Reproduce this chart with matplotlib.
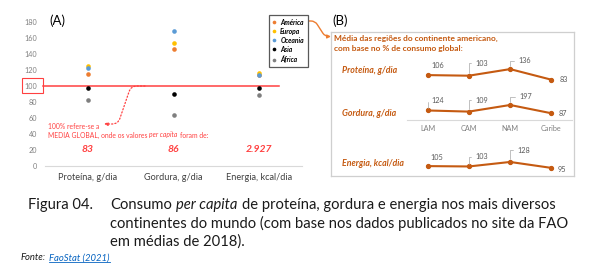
import matplotlib
matplotlib.use('Agg')
import matplotlib.pyplot as plt
from matplotlib.patches import Rectangle
from matplotlib.lines import Line2D
from matplotlib.transforms import IdentityTransform

plt.rcParams['font.family'] = ['Lato', 'DejaVu Sans']

# (A) consumo per capita, % da media global
nutrientes = ['Proteína, g/dia', 'Gordura, g/dia', 'Energia, kcal/dia']
continentes = ['América', 'Europa', 'Oceania', 'Asia', 'África']
america = [115, 146, 114]
europa = [125, 154, 116]
oceania = [123, 169, 113]
asia = [97, 90, 97]
africa = [82, 63, 88]
media_global = ['83', '86', '2.927']

# (B) regioes do continente americano, % do consumo global
regioes = ['LAM', 'CAM', 'NAM', 'Caribe']
proteina_am = [106, 103, 136, 83]
gordura_am = [124, 109, 197, 87]
energia_am = [105, 103, 128, 95]

W, H = 600, 278
fig = plt.figure(figsize=(W / 100, H / 100), dpi=100)
renderer = fig.canvas.get_renderer()
ident = IdentityTransform()

RED = '#ff4040'
ORANGE = '#c55a11'
GRAY = '#595959'
TXT = '#1a1a1a'
cores = ['#ed7d31', '#ffc000', '#5b9bd5', '#000000', '#7f7f7f']


def rect(x0, y0, x1, y1):
    # caixa em pixels (origem no canto superior esquerdo) -> fracao da figura
    return [x0 / W, 1 - y1 / H, (x1 - x0) / W, (y1 - y0) / H]


def pt(x, y):
    return (x / W, 1 - y / H)


def ftext(x, y, s, **kw):
    return fig.text(x / W, 1 - y / H, s, **kw)


def largura(s, **kw):
    t = fig.text(0, 0, s, **kw)
    w = t.get_window_extent(renderer).width
    t.remove()
    return w


def corrida(x, y, partes, **kw):
    # pedacos de texto lado a lado (normal / italico), separados por um espaco
    espaco = largura('n n', **kw) - largura('nn', **kw)
    objs = []
    for s, estilo in partes:
        objs.append(ftext(x, y, s, style=estilo, va='center', **kw))
        x += largura(s, style=estilo, **kw) + espaco + (0.8 if estilo == 'italic' else 0)
    return objs


# ---------------- (A)
ax = fig.add_axes(rect(45, 22, 302, 165.7))
ax.patch.set_alpha(0)
xs = list(range(len(nutrientes)))
for nome, vals, c in zip(continentes, [america, europa, oceania, asia, africa], cores):
    ax.plot(xs, vals, 'o', ms=3.3, color=c, mec='none', label=nome, zorder=3)
ax.set_xlim(-0.5, 2.5)
ax.set_ylim(0, 180)
ax.set_yticks(range(0, 181, 20))
ax.set_xticks(xs, nutrientes)
ax.tick_params(axis='y', length=0, pad=5.8, labelsize=5.2, labelcolor='#808080')
ax.tick_params(axis='x', length=0, pad=5.5, labelsize=6.6, labelcolor='#404040')
for s in ['left', 'right', 'top']:
    ax.spines[s].set_visible(False)
ax.spines['bottom'].set_color('#d9d9d9')

# linha de 100% (media global)
ax.plot([-0.52, 2.23], [100, 100], color=RED, lw=1.1, clip_on=False, zorder=2)
fig.add_artist(Rectangle(pt(22, 93), 21 / W, 15 / H, transform=fig.transFigure,
                         fill=False, ec=RED, lw=0.8))
ftext(49, 21, '(A)', fontsize=9.5, va='center')

ftext(48, 126, '100% refere-se a', color=RED, fontsize=4.9, va='center')
corrida(48, 135, [('MEDIA GLOBAL, onde os valores', 'normal'), ('per capita', 'italic'),
                  ('foram de:', 'normal')], color=RED, fontsize=4.9)
for i, v in enumerate(media_global):
    ax.text(i, 20, v, ha='center', va='center', color=RED, fontsize=7.5,
            weight='bold', style='italic')

ax.annotate('', xy=pt(104, 124), xycoords='figure fraction', xytext=pt(145, 86),
            textcoords='figure fraction',
            arrowprops=dict(arrowstyle='-|>', ls=':', color=RED, lw=0.9, mutation_scale=5,
                            shrinkA=0, shrinkB=0,
                            connectionstyle='arc,angleA=180,angleB=0,armA=14,armB=14,rad=6'))

leg = ax.legend(loc='upper left', bbox_to_anchor=pt(269, 15), bbox_transform=fig.transFigure,
                prop=dict(size=4.9, weight='bold', style='italic'), handlelength=0.5,
                handletextpad=0.6, labelspacing=0.3, borderpad=0.55, borderaxespad=0,
                fancybox=False, edgecolor=GRAY, framealpha=1, markerscale=0.8)
leg.get_frame().set_linewidth(0.9)

ax.annotate('', xy=pt(331, 36.5), xycoords='figure fraction', xytext=pt(307, 21),
            textcoords='figure fraction',
            arrowprops=dict(arrowstyle='-|>', color='#ed7d31', lw=1.0, mutation_scale=5,
                            shrinkA=0, shrinkB=0,
                            connectionstyle='arc,angleA=0,angleB=180,armA=8,armB=6,rad=4'))

# ---------------- (B)
bx = fig.add_axes(rect(331, 32, 574, 176))
bx.set_xticks([])
bx.set_yticks([])
for s in bx.spines.values():
    s.set_color('#cfcfcf')
    s.set_linewidth(0.9)
ftext(332, 21, '(B)', fontsize=9.5, va='center')
ftext(334, 38, 'Média das regiões do continente americano,', color=ORANGE, fontsize=6,
      weight='bold', va='center')
ftext(334, 49, 'com base no % de consumo global:', color=ORANGE, fontsize=6,
      weight='bold', va='center')

rotulos = [('Proteína, g/dia', 70.5), ('Gordura, g/dia', 114), ('Energia, kcal/dia', 163)]
for s, y in rotulos:
    ftext(342, y, s, color=ORANGE, fontsize=6.3, weight='bold', style='italic', va='center')

# caixas das tres series (pixels), topo do eixo y, posicao dos rotulos
series = [
    (proteina_am, (407, 56.3, 572, 96.3), 200,
     [(7, -7, False), (9, -9, True), (10.5, -6, True), (9, 0, False)]),
    (gordura_am, (407, 101, 572, 119.8), 250,
     [(7, -7, True), (9, -8, True), (11, -6, True), (8, 0, False)]),
    (energia_am, (407, 158, 572, 185), 150,
     [(6.5, -6.5, False), (9, -7, True), (10, -8.5, True), (7.5, 1, False)]),
]
for vals, caixa, ymax, rot in series:
    lx = fig.add_axes(rect(*caixa))
    lx.patch.set_alpha(0)
    lx.plot(range(len(regioes)), vals, '-o', color=ORANGE, lw=1.5, ms=2.8, clip_on=False)
    lx.set_xlim(-0.5, 3.5)
    lx.set_ylim(0, ymax)
    lx.set_yticks([])
    lx.set_xticks([])
    for s in lx.spines.values():
        s.set_visible(False)
    for i, (v, (dx, dy, lider)) in enumerate(zip(vals, rot)):
        ap = None
        if lider:
            ap = dict(arrowstyle='-', color='#a6a6a6', lw=0.5, relpos=(0, 0.5),
                      shrinkA=1, shrinkB=2,
                      connectionstyle='angle,angleA=0,angleB=90,rad=0')
        lx.annotate(str(v), (i, v), xytext=(dx, -dy), textcoords='offset points',
                    ha='center', va='center', fontsize=5.2, color=GRAY, arrowprops=ap,
                    annotation_clip=False)
    if vals is gordura_am:
        lx.spines['bottom'].set_visible(True)
        lx.spines['bottom'].set_color('#d9d9d9')
        lx.set_xticks(range(len(regioes)), regioes)
        lx.tick_params(axis='x', length=0, pad=4, labelsize=5.2, labelcolor='#808080')

# ---------------- legenda da figura
linha2 = 'continentes do mundo (com base nos dados publicados no site da FAO'
FS = 10 * 457 / largura(linha2, fontsize=10)
ftext(28, 205, 'Figura 04.', fontsize=FS, va='center', color=TXT)
corrida(110, 205, [('Consumo', 'normal'), ('per capita', 'italic'),
                   ('de proteína, gordura e energia nos mais diversos', 'normal')],
        fontsize=FS, color=TXT)
ftext(110, 223.5, linha2, fontsize=FS, va='center', color=TXT)
ftext(110, 242, 'em médias de 2018).', fontsize=FS, va='center', color=TXT)

fonte = corrida(21, 258, [('Fonte:', 'italic'), ('FaoStat (2021)', 'italic')],
                fontsize=6.8, color=TXT)
fonte[1].set_color('#0563c1')
bb = fonte[1].get_window_extent(renderer)
fig.add_artist(Line2D([bb.x0, bb.x1], [bb.y0 + 0.5, bb.y0 + 0.5], transform=ident,
                      color='#0563c1', lw=0.6))

fig.savefig('out.png', dpi=100)
